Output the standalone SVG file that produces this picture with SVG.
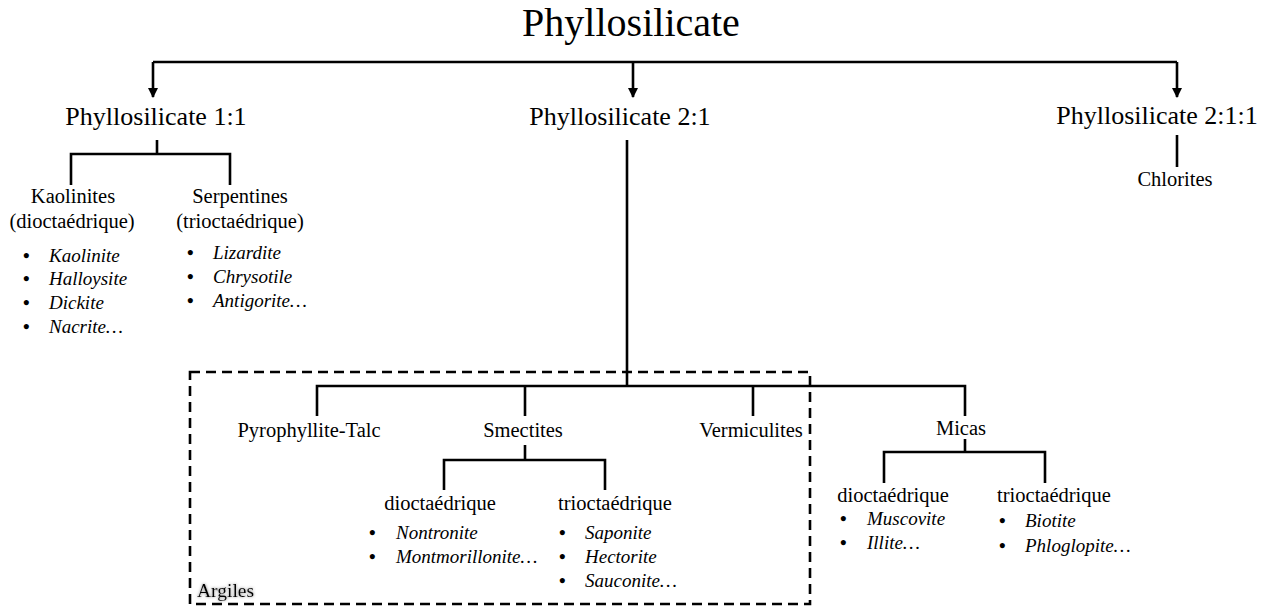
<svg xmlns="http://www.w3.org/2000/svg" width="1275" height="607" viewBox="0 0 1275 607">
<defs>
<marker id="arr" viewBox="0 0 10 10" refX="9" refY="5" markerWidth="4" markerHeight="4" orient="auto" markerUnits="strokeWidth">
<path d="M0,0 L10,5 L0,10 z" fill="#000"/>
</marker>
<filter id="glow" x="-20%" y="-40%" width="140%" height="180%">
<feGaussianBlur in="SourceAlpha" stdDeviation="1.6" result="b"/>
<feFlood flood-color="#707070" flood-opacity="0.9"/>
<feComposite in2="b" operator="in" result="s"/>
<feMerge><feMergeNode in="s"/><feMergeNode in="SourceGraphic"/></feMerge>
</filter>
<style>
text{font-family:"Liberation Serif","DejaVu Serif",serif;fill:#000}
.title{font-size:40px;text-anchor:middle}
.l1{font-size:26px;text-anchor:middle}
.l2{font-size:20.5px;text-anchor:middle}
.it{font-size:19px;font-style:italic}
.bul{font-size:19px;font-weight:bold}
.ln{stroke:#000;stroke-width:2.6;fill:none}
.dash{stroke:#000;stroke-width:2.6;fill:none;stroke-dasharray:10 6}
</style>
</defs>
<rect width="1275" height="607" fill="#fff"/>

<g id="connectors">
<path class="ln" d="M153,62 H1177"/>
<path class="ln" d="M153,62 V97" marker-end="url(#arr)"/>
<path class="ln" d="M633,62 V97" marker-end="url(#arr)"/>
<path class="ln" d="M1177,62 V97" marker-end="url(#arr)"/>
<path class="ln" d="M157,140 V154 M71,185 V154 H230 V185"/>
<path class="ln" d="M1177,135 V167"/>
<path class="ln" d="M627,140 V386 M317,416 V386 H965 V416 M525,386 V416 M753,386 V416"/>
<path class="ln" d="M525,445 V460 M444,490 V460 H605 V490"/>
<path class="ln" d="M965,439 V452 M884,483 V452 H1045 V483"/>
</g>

<g id="argiles-box">
<rect class="dash" x="190" y="372" width="620" height="232"/>
<text x="197" y="597" font-size="19.5" filter="url(#glow)">Argiles</text>
</g>

<g id="n-root"><text class="title" x="631" y="36">Phyllosilicate</text></g>
<g id="n-11"><text class="l1" x="156" y="125">Phyllosilicate 1:1</text></g>
<g id="n-21"><text class="l1" x="620" y="125">Phyllosilicate 2:1</text></g>
<g id="n-211"><text class="l1" x="1157" y="124">Phyllosilicate 2:1:1</text></g>

<g id="n-kaolinites">
<text class="l2" x="73" y="203">Kaolinites</text>
<text class="l2" x="72" y="228">(dioctaédrique)</text>
<text class="bul" x="23" y="262">•</text><text class="it" x="49" y="262">Kaolinite</text>
<text class="bul" x="23" y="285">•</text><text class="it" x="49" y="285">Halloysite</text>
<text class="bul" x="23" y="309">•</text><text class="it" x="49" y="309">Dickite</text>
<text class="bul" x="23" y="333">•</text><text class="it" x="49" y="333">Nacrite…</text>
</g>

<g id="n-serpentines">
<text class="l2" x="240" y="203">Serpentines</text>
<text class="l2" x="240" y="228">(trioctaédrique)</text>
<text class="bul" x="187" y="259">•</text><text class="it" x="213" y="259">Lizardite</text>
<text class="bul" x="187" y="283">•</text><text class="it" x="213" y="283">Chrysotile</text>
<text class="bul" x="187" y="307">•</text><text class="it" x="213" y="307">Antigorite…</text>
</g>

<g id="n-chlorites"><text class="l2" x="1175" y="186">Chlorites</text></g>

<g id="n-pyro"><text class="l2" x="309" y="437">Pyrophyllite-Talc</text></g>
<g id="n-smectites"><text class="l2" x="523" y="437">Smectites</text></g>
<g id="n-vermiculites"><text class="l2" x="751" y="437">Vermiculites</text></g>
<g id="n-micas"><text class="l2" x="961" y="435">Micas</text></g>

<g id="n-smec-di">
<text class="l2" x="440" y="510">dioctaédrique</text>
<text class="bul" x="369" y="539">•</text><text class="it" x="396" y="539">Nontronite</text>
<text class="bul" x="369" y="563">•</text><text class="it" x="396" y="563">Montmorillonite…</text>
</g>
<g id="n-smec-tri">
<text class="l2" x="615" y="510">trioctaédrique</text>
<text class="bul" x="559" y="539">•</text><text class="it" x="585" y="539">Saponite</text>
<text class="bul" x="559" y="563">•</text><text class="it" x="585" y="563">Hectorite</text>
<text class="bul" x="559" y="587">•</text><text class="it" x="585" y="587">Sauconite…</text>
</g>

<g id="n-mica-di">
<text class="l2" x="893" y="502">dioctaédrique</text>
<text class="bul" x="840" y="525">•</text><text class="it" x="867" y="525">Muscovite</text>
<text class="bul" x="840" y="549">•</text><text class="it" x="867" y="549">Illite…</text>
</g>
<g id="n-mica-tri">
<text class="l2" x="1054" y="502">trioctaédrique</text>
<text class="bul" x="999" y="527">•</text><text class="it" x="1025" y="527">Biotite</text>
<text class="bul" x="999" y="552">•</text><text class="it" x="1025" y="552">Phloglopite…</text>
</g>
</svg>
